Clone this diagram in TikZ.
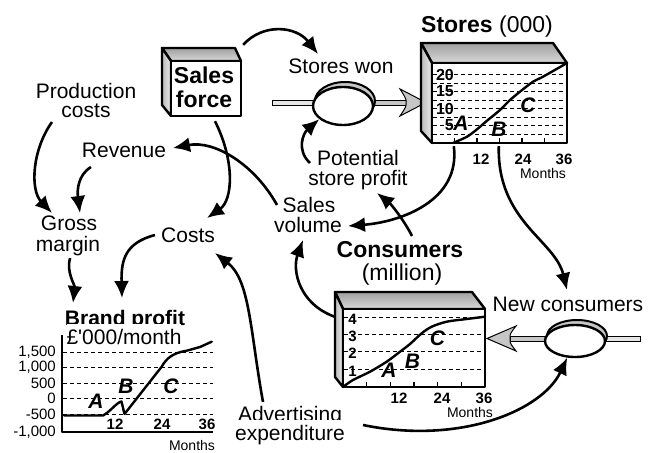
\documentclass[tikz,border=0pt]{standalone}
\usepackage{fontspec}
\setmainfont{Liberation Sans}
\usetikzlibrary{arrows.meta,shapes.geometric}
\newcommand\myfs[1]{\fontsize{#1}{#1}\selectfont}
\begin{document}
\begin{tikzpicture}[x=1pt,y=-1pt,
  lbl/.style={font=\myfs{21}, inner sep=0pt, anchor=base},
  cover/.style={fill=white, text height=20pt},
  ttl/.style={font=\myfs{23}\bfseries, inner sep=0pt, anchor=base},
  axb/.style={font=\myfs{14}\bfseries, inner sep=0pt},
  axr/.style={font=\myfs{15}, inner sep=0pt, anchor=east},
  mon/.style={font=\myfs{14}, inner sep=0pt, anchor=base},
  abc/.style={font=\myfs{21}\bfseries\itshape, inner sep=0pt, anchor=base},
  link/.style={line width=2.6pt, -{Latex[length=17pt,width=15pt]}},
  gridl/.style={line width=1pt, dash pattern=on 4pt off 3pt},
  frm/.style={line width=2.4pt, line join=round},
  crv/.style={line width=2.4pt, line join=round, line cap=round},
  topface/.style={frm, draw, top color=gray!75, bottom color=gray!30},
  sideface/.style={frm, draw, left color=gray!55, right color=gray!15},
  pipe/.style={draw, line width=1pt},
  valve/.style={ellipse, draw, fill=white, line width=2.4pt, inner sep=0pt, minimum width=60pt},
  lid/.style={ellipse, draw, fill=gray!45, line width=2pt, inner sep=0pt, minimum width=60pt},
]
\useasboundingbox (0,0) rectangle (655,452);

% ---------- Sales force box ----------
\path[topface] (162,48) -- (235,48) -- (241,61) -- (171,61) -- cycle;
\path[sideface] (162,48) -- (171,61) -- (171,116) -- (162,105) -- cycle;
\node[draw, fill=white, frm, minimum width=70pt, minimum height=55pt, inner sep=0pt] (sf) at (206,88.5) {};
\node[ttl] (sf1) at (204,83) {Sales};
\node[ttl] (sf2) at (204,107) {force};

% ---------- Stores won flow ----------
\path[pipe, fill=gray!20] (272,100) rectangle (314,105);
\path[pipe, fill=gray!45] (372,100) rectangle (406,105);
\path[pipe, fill=gray!45] (426,102.5) -- (400,89) .. controls (404,95) and (406,99) .. (406,100)
   -- (406,105) .. controls (406,107) and (404,110) .. (400,116) -- cycle;
\node[lid, minimum height=38pt] (v1lid) at (345,101) {};
\node[valve, minimum height=38pt] (v1) at (343,106) {};
\node[lbl] (sw) at (341,74) {Stores won};

% ---------- Stores box ----------
\node[ttl] (storesT) at (487,33) {Stores {\mdseries(000)}};
\path[topface] (421,43) -- (553,43) -- (567,63) -- (432,63) -- cycle;
\path[sideface] (421,43) -- (432,63) -- (432,143) -- (421,131) -- cycle;
\node[draw, fill=white, frm, minimum width=135pt, minimum height=80pt, inner sep=0pt] (stores) at (499.5,103) {};
\foreach \v/\y in {20/74.5,15/91.5,10/108.5,5/125.5}
  \node[axb, anchor=east, font=\myfs{16}\bfseries] (st\v) at (454,\y) {\v};
\foreach \y in {74.5,83,91.5,100,108.5,117,125.5,134}
  \draw[gridl] (433,\y) -- (566,\y);
\foreach \x in {454.5,477,499.5,522,544.5}
  \draw[line width=1.5pt] (\x,142) -- (\x,138);
\draw[crv] plot[smooth] coordinates {(453,143) (467,136.7) (477,129.3) (487,120.7) (500,110) (510,100) (520,91.7) (533,81.7) (543,76.7) (567,63)};
\node[abc] (sA) at (461,130) {A};
\node[abc] (sB) at (499,136) {B};
\node[abc] (sC) at (528,112) {C};
\node[axb, anchor=base, font=\myfs{15}\bfseries] (s12) at (481,164) {12};
\node[axb, anchor=base, font=\myfs{15}\bfseries] (s24) at (523,164) {24};
\node[axb, anchor=base, font=\myfs{15}\bfseries] (s36) at (564,164) {36};
\node[mon] (smon) at (543,178) {Months};

% ---------- Consumers box ----------
\node[ttl] (cons1) at (400,257) {Consumers};
\node[lbl, font=\myfs{23}] (cons2) at (402,280) {(million)};
\path[topface] (335,292) -- (472,292) -- (485,309) -- (343,309) -- cycle;
\path[sideface] (335,292) -- (343,309) -- (343,387) -- (335,377) -- cycle;
\node[draw, fill=white, frm, minimum width=142pt, minimum height=78pt, inner sep=0pt] (cons) at (414,348) {};
\foreach \v/\y in {4/317,3/334,2/351,1/369}
  \node[axb, anchor=east, font=\myfs{15}\bfseries] (c\v) at (357,\y+2) {\v};
\foreach \y in {317,334,351,369}
  \draw[gridl] (344,\y) -- (484,\y);
\foreach \x in {366.7,390.3,414,437.7,461.3}
  \draw[line width=1.5pt] (\x,386) -- (\x,382);
\draw[crv] plot[smooth] coordinates {(343.3,386.7) (353,380) (370,371.7) (386.7,361.7) (400,351.7) (410,344) (421.7,333.3) (431.7,326.7) (446.7,321.7) (466.7,319) (485,316.7)};
\node[abc] (cA) at (389,377) {A};
\node[abc] (cB) at (412.5,368) {B};
\node[abc] (cC) at (437.5,345) {C};
\node[axb, anchor=base, font=\myfs{15}\bfseries] (c12) at (399,403) {12};
\node[axb, anchor=base, font=\myfs{15}\bfseries] (c24) at (442,403) {24};
\node[axb, anchor=base, font=\myfs{15}\bfseries] (c36) at (484,403) {36};
\node[mon] (cmon) at (470,417) {Months};

% ---------- New consumers flow ----------
\path[pipe, fill=gray!20] (605,336) rectangle (640,341);
\path[pipe, fill=gray!45] (510,336) rectangle (546,341);
\path[pipe, fill=gray!45] (487,338.5) -- (516,326) .. controls (512,331) and (510,334) .. (510,336)
   -- (510,341) .. controls (510,343) and (512,346) .. (516,351) -- cycle;
\node[lid, minimum height=32pt] (v2lid) at (577,336) {};
\node[valve, minimum height=32pt] (v2) at (575,341) {};
\node[lbl] (nc) at (568,311) {New consumers};

% ---------- Brand profit chart ----------
\node[ttl, font=\myfs{21}\bfseries] (bp1) at (125,325) {Brand profit};
\node[lbl, cover] (bp2) at (124,344) {£\textquotesingle000/month};
\draw[frm] (62,335) -- (62,432) -- (213,432);
\foreach \y in {352,367.6,383.2,398.8,414.4}
  \draw[gridl] (63,\y) -- (213,\y);
\node[axr] (b1) at (56,352) {1,500};
\node[axr] (b2) at (56,367.6) {1,000};
\node[axr] (b3) at (56,383.2) {500};
\node[axr] (b4) at (56,398.8) {0};
\node[axr] (b5) at (56,414.4) {-500};
\node[axr] (b6) at (56,432) {-1,000};
\draw[crv] (64,415.5) -- (103,415.5) .. controls (110,412) and (117,402) .. (121.5,401.5)
  -- (124.5,414) -- (161.7,366.7) .. controls (166,359) and (172,353) .. (186.7,350.7)
  -- (200,347) -- (211.7,341.7);
\node[abc] (bA) at (96,408) {A};
\node[abc] (bB) at (126,393) {B};
\node[abc] (bC) at (171,393) {C};
\node[axb, anchor=base, font=\myfs{15}\bfseries] (b12) at (115,429) {12};
\node[axb, anchor=base, font=\myfs{15}\bfseries] (b24) at (162,429) {24};
\node[axb, anchor=base, font=\myfs{15}\bfseries] (b36) at (207,429) {36};
\node[mon] (bmon) at (192,450) {Months};

% ---------- other labels ----------
\node[lbl] (prod1) at (86,98) {Production};
\node[lbl] (prod2) at (86,117) {costs};
\node[lbl] (rev) at (124,157) {Revenue};
\node[lbl] (gross1) at (69,230) {Gross};
\node[lbl, cover] (gross2) at (68,251) {margin};
\node[lbl] (costs) at (188,242) {Costs};
\node[lbl] (sv1) at (309,212) {Sales};
\node[lbl, cover] (sv2) at (308,232) {volume};
\node[lbl] (psp1) at (358,165) {Potential};
\node[lbl] (psp2) at (358,185) {store profit};
\node[lbl] (adv1) at (290,421) {Advertising};
\node[lbl, cover] (adv2) at (290,440) {expenditure};

% ---------- causal links ----------
\draw[link] ([xshift=1pt,yshift=15pt]sf.north east) .. controls +(20,-22) and +(-22,-28) .. ([xshift=-23pt,yshift=20pt]sw.base);
\draw[link] ([xshift=-48pt,yshift=2pt]psp1.base) .. controls +(-14,-13) and +(-16,14) .. (v1.209);
\draw[link] ([xshift=23pt,yshift=-2pt]stores.south west) .. controls +(7,55) and +(52,-4) .. ([xshift=40pt,yshift=6pt]sv2.base);
\draw[link] ([xshift=68pt,yshift=-2pt]stores.south west) .. controls +(-2,75) and +(-12,-50) .. ([xshift=-1pt,yshift=21pt]nc.base);
\draw[link] ([xshift=-32pt,yshift=7pt]sv1.base) .. controls +(-22,-40) and +(42,-8) .. ([xshift=49pt,yshift=9pt]rev.base);
\draw[link] ([xshift=9pt,yshift=-4pt]sf.south) .. controls +(20,40) and +(26,-18) .. ([xshift=19pt,yshift=24pt]costs.base);
\draw[link] ([xshift=-34pt,yshift=-5pt]prod2.base) .. controls +(-20,28) and +(-22,-23) .. ([xshift=-17pt,yshift=17pt]gross1.base);
\draw[link] ([xshift=-33pt,yshift=-10pt]rev.base) .. controls +(-13,8) and +(-3,-23) .. ([xshift=11pt,yshift=17pt]gross1.base);
\draw[link] ([xshift=2pt,yshift=-7pt]gross2.base) .. controls +(-4,14) and +(2,-18) .. ([xshift=-52pt,yshift=22pt]bp1.base);
\draw[link] ([xshift=-33pt,yshift=7pt]costs.base) .. controls +(-30,8) and +(-1,-38) .. ([xshift=-3pt,yshift=27pt]bp1.base);
\draw[link] ([xshift=-27pt,yshift=19pt]adv1.base) .. controls +(-13,-72) and +(35,27) .. ([xshift=27pt,yshift=-11pt]costs.base);
\draw[link] ([xshift=-7pt,yshift=-9pt]cons.north west) .. controls +(-36,-13) and +(-11,30) .. ([xshift=-5pt,yshift=-8pt]sv2.base);
\draw[link] ([xshift=12pt,yshift=21pt]cons1.base) .. controls +(-7,-14) and +(15,12) .. ([xshift=19pt,yshift=-8pt]psp2.base);
\draw[link] ([xshift=73pt,yshift=-4pt]adv1.base) .. controls +(97,20) and +(-25,53) .. (v2.245);
\end{tikzpicture}
\end{document}
